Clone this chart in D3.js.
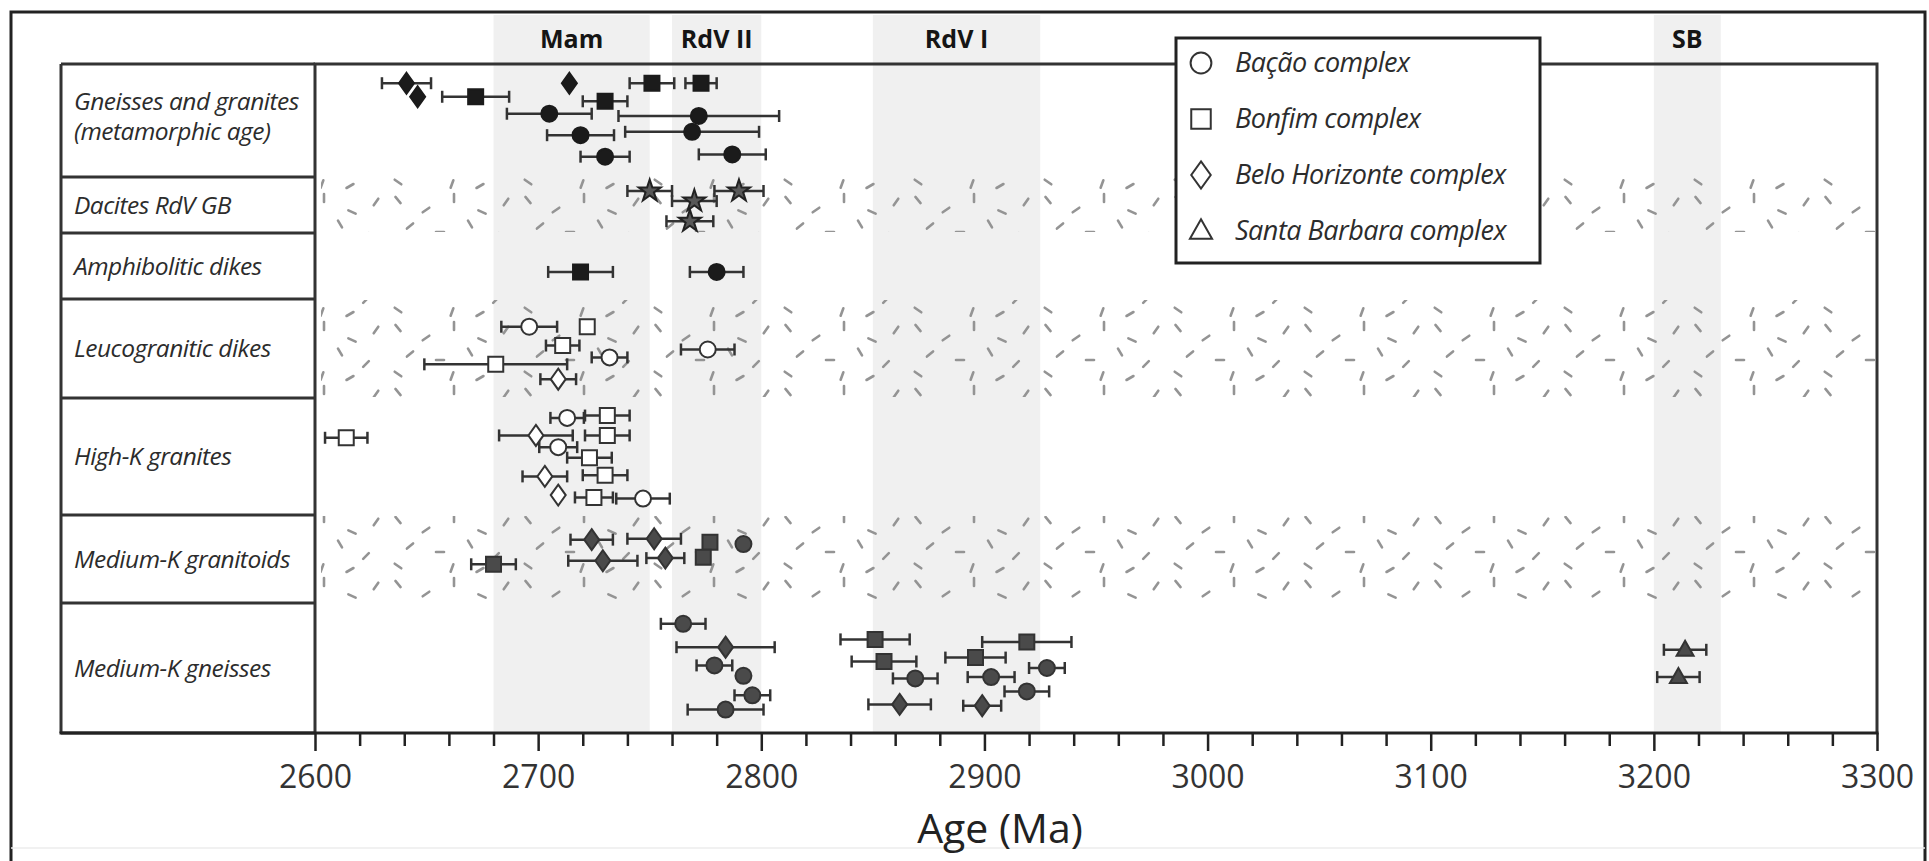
<!DOCTYPE html>
<html>
<head>
<meta charset="utf-8">
<script src="https://cdn.jsdelivr.net/npm/d3@7"></script>
<style>
  body { margin: 0; background: #fff; }
  svg { display: block; font-family: "Open Sans", sans-serif; }
</style>
</head>
<body>
<div id="chart"></div>
<script>
// ---------------- data ----------------
var rowNames = [
  ["Gneisses and granites", "(metamorphic age)"],
  ["Dacites RdV GB"],
  ["Amphibolitic dikes"],
  ["Leucogranitic dikes"],
  ["High-K granites"],
  ["Medium-K granitoids"],
  ["Medium-K gneisses"]
];

var bandNames = ["Mam", "RdV II", "RdV I", "SB"];
var bandStart = [2680, 2760, 2850, 3200];
var bandEnd   = [2750, 2800, 2925, 3230];

var majorTicks = [2600, 2700, 2800, 2900, 3000, 3100, 3200, 3300];
var minorStep = 20;

var legendNames = ["Bação complex", "Bonfim complex", "Belo Horizonte complex", "Santa Barbara complex"];
var legendCodes = ["BA", "BO", "BH", "SB"];

// each point: [complex, age (Ma), error (Ma), level]
// level = row index + relative depth inside the row (0 = top, 1 = bottom)
// BA = Bação, BO = Bonfim, BH = Belo Horizonte, SB = Santa Barbara, DA = dacite (RdV GB)
var metamorphicAges = [
  ["BH", 2641, 11, 0.17], ["BH", 2646, 0, 0.29], ["BO", 2672, 15, 0.29],
  ["BH", 2714, 0, 0.17], ["BO", 2751, 10, 0.17], ["BO", 2773, 7, 0.17],
  ["BO", 2730, 10, 0.33], ["BA", 2705, 19, 0.44], ["BA", 2772, 36, 0.46],
  ["BA", 2719, 15, 0.63], ["BA", 2769, 30, 0.60], ["BA", 2730, 11, 0.82],
  ["BA", 2787, 15, 0.80]
];
var daciteAges = [
  ["DA", 2750, 10, 1.25], ["DA", 2790, 11, 1.25],
  ["DA", 2770, 10, 1.43], ["DA", 2768, 10.5, 1.79]
];
var amphiboliticAges = [
  ["BO", 2719, 14.5, 2.59], ["BA", 2780, 12, 2.59]
];
var leucograniticAges = [
  ["BA", 2696, 12.5, 3.28], ["BO", 2722, 0, 3.28], ["BO", 2711, 7.5, 3.47],
  ["BA", 2732, 8, 3.59], ["BO", 2681, 32, 3.66], ["BH", 2709, 8, 3.81],
  ["BA", 2776, 12, 3.51]
];
var highKAges = [
  ["BO", 2614, 9.5, 4.34], ["BA", 2713, 7.5, 4.17], ["BO", 2731, 10, 4.15],
  ["BH", 2699, 16.5, 4.32], ["BO", 2731, 10, 4.32], ["BA", 2709, 8.5, 4.42],
  ["BO", 2723, 10, 4.51], ["BO", 2730, 10, 4.66], ["BH", 2703, 10, 4.67],
  ["BH", 2709, 0, 4.83], ["BO", 2725, 8.5, 4.85], ["BA", 2747, 12, 4.86]
];
var mediumKGranitoidAges = [
  ["BH", 2724, 9.5, 5.28], ["BH", 2752, 12, 5.27], ["BO", 2777, 0, 5.31],
  ["BA", 2792, 0, 5.33], ["BO", 2680, 10, 5.56], ["BH", 2729, 15.5, 5.52],
  ["BH", 2757, 8.5, 5.49], ["BO", 2774, 0, 5.48]
];
var mediumKGneissAges = [
  ["BA", 2765, 10, 6.16], ["BH", 2784, 22, 6.34], ["BA", 2779, 8, 6.48],
  ["BA", 2792, 0, 6.56], ["BA", 2796, 8, 6.71], ["BA", 2784, 17, 6.82],
  ["BO", 2851, 15.5, 6.28], ["BO", 2855, 14.5, 6.45], ["BA", 2869, 10, 6.58],
  ["BH", 2862, 14, 6.78], ["BO", 2919, 20, 6.30], ["BO", 2896, 13.5, 6.42],
  ["BA", 2928, 8, 6.50], ["BA", 2903, 10.5, 6.57], ["BA", 2919, 10, 6.68],
  ["BH", 2899, 8.5, 6.79], ["SB", 3214, 9.5, 6.36], ["SB", 3211, 9.5, 6.57]
];

// ---------------- layout ----------------
var width = 1929, height = 861;
var plot = {left: 315, right: 1877, top: 64, bottom: 733};
var labelBoxLeft = 61;

var svg = d3.select("#chart").append("svg")
    .attr("width", width)
    .attr("height", height);

var x = d3.scaleLinear()
    .domain([2600, 3300])
    .range([plot.left, plot.right]);

// rows have uneven heights, so a piecewise linear scale over the row edges
var y = d3.scaleLinear()
    .domain(d3.range(0, rowNames.length + 1))
    .range([plot.top, 177, 233, 299, 398, 515, 603, plot.bottom]);

// texture pattern (granitic dashes)
var dashes = [
  [8, 8, 50], [36, 18, -35], [64, 6, 90], [92, 20, 25], [116, 10, -55],
  [20, 34, -40], [50, 40, 0], [80, 32, 60], [106, 44, 135],
  [8, 54, 35], [62, 56, -70], [90, 58, 150]
];
var defs = svg.append("defs");
var pattern = defs.append("pattern")
    .attr("id", "granite")
    .attr("patternUnits", "userSpaceOnUse")
    .attr("width", 130)
    .attr("height", 64);
pattern.selectAll("line")
    .data(dashes)
    .enter().append("line")
    .attr("x1", function(d) { return d[0] - 4 * Math.cos(d[2] * Math.PI / 180); })
    .attr("y1", function(d) { return d[1] - 4 * Math.sin(d[2] * Math.PI / 180); })
    .attr("x2", function(d) { return d[0] + 4 * Math.cos(d[2] * Math.PI / 180); })
    .attr("y2", function(d) { return d[1] + 4 * Math.sin(d[2] * Math.PI / 180); })
    .style("stroke", "#949494")
    .style("stroke-width", 2.6)
    .style("stroke-linecap", "round");

// outer frame
svg.append("path")
    .attr("d", "M11," + height + "V12H1925V" + height)
    .style("fill", "none")
    .style("stroke", "#222")
    .style("stroke-width", 3);
svg.append("line")
    .attr("x1", 11).attr("x2", 1925)
    .attr("y1", 848).attr("y2", 848)
    .style("stroke", "#ececec")
    .style("stroke-width", 1.5);

// shaded bands
var bands = bandNames.map(function(n, i) { return {name: n, start: bandStart[i], end: bandEnd[i]}; });
svg.selectAll(".band")
    .data(bands)
    .enter().append("rect")
    .attr("class", "band")
    .attr("x", function(d) { return x(d.start); })
    .attr("width", function(d) { return x(d.end) - x(d.start); })
    .attr("y", 15)
    .attr("height", plot.bottom - 15)
    .style("fill", "#f0f0f0");

svg.selectAll(".bandLabel")
    .data(bands)
    .enter().append("text")
    .attr("class", "bandLabel")
    .attr("x", function(d) { return x((d.start + d.end) / 2); })
    .attr("y", 48)
    .attr("text-anchor", "middle")
    .style("font-weight", "bold")
    .style("font-size", "25px")
    .style("fill", "#151515")
    .text(function(d) { return d.name; });

// textured rows
[1, 3, 5].forEach(function(r) {
  svg.append("rect")
      .attr("x", plot.left + 6)
      .attr("width", plot.right - plot.left - 8)
      .attr("y", y(r) + 1)
      .attr("height", y(r + 1) - y(r) - 2)
      .style("fill", "url(#granite)");
});

// label box rows
var g = svg.append("g");
g.selectAll(".rowLine")
    .data(d3.range(0, rowNames.length + 1))
    .enter().append("line")
    .attr("x1", labelBoxLeft)
    .attr("x2", plot.left)
    .attr("y1", function(d) { return y(d); })
    .attr("y2", function(d) { return y(d); })
    .style("stroke", "#333")
    .style("stroke-width", 3);

g.append("line")
    .attr("x1", labelBoxLeft).attr("x2", labelBoxLeft)
    .attr("y1", plot.top).attr("y2", plot.bottom)
    .style("stroke", "#333").style("stroke-width", 3);

// plot box (top, left, right); bottom is the axis line
svg.append("path")
    .attr("d", "M" + plot.left + "," + plot.bottom + "V" + plot.top + "H" + plot.right + "V" + plot.bottom)
    .style("fill", "none")
    .style("stroke", "#333")
    .style("stroke-width", 3);

svg.append("line")
    .attr("x1", labelBoxLeft - 1.5).attr("x2", plot.right + 1.5)
    .attr("y1", plot.bottom).attr("y2", plot.bottom)
    .style("stroke", "#222").style("stroke-width", 3);

// row labels
var rowLabels = svg.selectAll(".rowLabel")
    .data(rowNames)
    .enter().append("text")
    .attr("class", "rowLabel")
    .attr("x", 74)
    .attr("y", function(d, i) { return (y(i) + y(i + 1)) / 2 - (d.length - 1) * 19; })
    .style("font-style", "italic")
    .style("font-size", "24.5px")
    .style("letter-spacing", "-0.5px")
    .style("fill", "#2c2c2c");
rowLabels.selectAll("tspan")
    .data(function(d) { return d.map(function(t, k) { return {t: t, k: k}; }); })
    .enter().append("tspan")
    .attr("x", 74)
    .attr("dy", function(d) { return d.k === 0 ? "0.35em" : "30"; })
    .text(function(d) { return d.t; });

// x axis: minor and major ticks
var minorAxis = d3.axisBottom(x)
    .tickValues(d3.range(2600, 3301, minorStep).filter(function(v) { return v % 100 !== 0; }))
    .tickSize(13)
    .tickFormat("");
var majorAxis = d3.axisBottom(x)
    .tickValues(majorTicks)
    .tickSize(18)
    .tickPadding(14)
    .tickFormat(d3.format("d"));

[minorAxis, majorAxis].forEach(function(ax) {
  var a = svg.append("g")
      .attr("transform", "translate(0," + plot.bottom + ")")
      .call(ax);
  a.select(".domain").remove();
  a.selectAll("line").style("stroke", "#222").style("stroke-width", 2.5);
  a.selectAll("text")
      .style("font-family", "'Open Sans', sans-serif")
      .style("font-size", "32px")
      .style("fill", "#333");
});

svg.append("text")
    .attr("x", 1000)
    .attr("y", 843)
    .attr("text-anchor", "middle")
    .style("font-size", "41px")
    .style("fill", "#222")
    .text("Age (Ma)");

// marker shapes
function shapePath(code, s) {
  s = s || 1;
  if (code === "BA") return d3.symbol(d3.symbolCircle, Math.PI * 64 * s * s)();
  if (code === "BO") { var h = 7.5 * s; return "M" + -h + "," + -h + "H" + h + "V" + h + "H" + -h + "Z"; }
  if (code === "BH") { var w = 7.5 * s, t = 10.5 * s; return "M0," + -t + "L" + w + ",0L0," + t + "L" + -w + ",0Z"; }
  if (code === "SB") { var a = 8.5 * s; return "M0," + (-9 * s) + "L" + a + "," + (6 * s) + "H" + -a + "Z"; }
  return d3.symbol(d3.symbolStar, 150 * s * s)();
}

var groups = [
  {data: metamorphicAges, fill: "#1b1b1b", stroke: "#1b1b1b"},
  {data: daciteAges, fill: "#585858", stroke: "#222"},
  {data: amphiboliticAges, fill: "#1b1b1b", stroke: "#1b1b1b"},
  {data: leucograniticAges, fill: "#fff", stroke: "#333"},
  {data: highKAges, fill: "#fff", stroke: "#333"},
  {data: mediumKGranitoidAges, fill: "#4a4a4a", stroke: "#333"},
  {data: mediumKGneissAges, fill: "#4a4a4a", stroke: "#333"}
];

groups.forEach(function(grp) {
  var gg = svg.append("g");
  var withErr = grp.data.filter(function(d) { return d[2] > 0; });
  var eb = gg.selectAll(".err")
      .data(withErr)
      .enter().append("g")
      .style("stroke", "#333")
      .style("stroke-width", 2.5);
  eb.append("line")
      .attr("x1", function(d) { return x(d[1] - d[2]); })
      .attr("x2", function(d) { return x(d[1] + d[2]); })
      .attr("y1", function(d) { return y(d[3]); })
      .attr("y2", function(d) { return y(d[3]); });
  [-1, 1].forEach(function(sign) {
    eb.append("line")
        .attr("x1", function(d) { return x(d[1] + sign * d[2]); })
        .attr("x2", function(d) { return x(d[1] + sign * d[2]); })
        .attr("y1", function(d) { return y(d[3]) - 6; })
        .attr("y2", function(d) { return y(d[3]) + 6; });
  });
  gg.selectAll(".mark")
      .data(grp.data)
      .enter().append("path")
      .attr("transform", function(d) { return "translate(" + x(d[1]) + "," + y(d[3]) + ")"; })
      .attr("d", function(d) { return shapePath(d[0]); })
      .style("fill", grp.fill)
      .style("stroke", grp.stroke)
      .style("stroke-width", 2);
});

// legend
var legend = svg.append("g");
legend.append("rect")
    .attr("x", 1176).attr("y", 38)
    .attr("width", 364).attr("height", 225)
    .style("fill", "#fff")
    .style("stroke", "#222")
    .style("stroke-width", 3);
var li = legend.selectAll(".item")
    .data(legendNames)
    .enter().append("g")
    .attr("transform", function(d, i) { return "translate(1201," + (63 + i * 56) + ")"; });
li.append("path")
    .attr("d", function(d, i) { return shapePath(legendCodes[i], 1.3); })
    .style("fill", "#fff")
    .style("stroke", "#333")
    .style("stroke-width", 2);
li.append("text")
    .attr("x", 34)
    .attr("dy", "0.35em")
    .style("font-style", "italic")
    .style("font-size", "27px")
    .style("letter-spacing", "-0.5px")
    .style("fill", "#2c2c2c")
    .text(function(d) { return d; });
</script>
</body>
</html>
